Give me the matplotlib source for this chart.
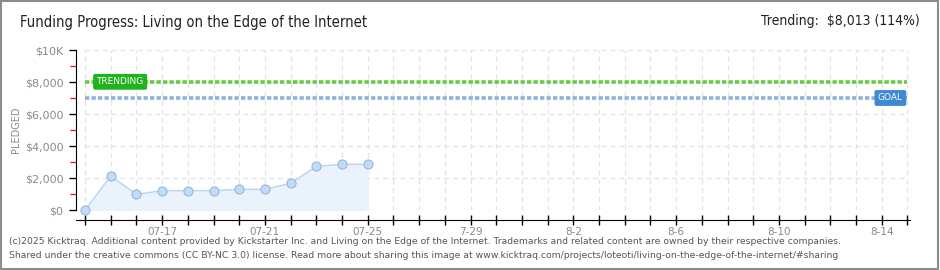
import numpy as np
import matplotlib
matplotlib.use("Agg")
from matplotlib import pyplot as plt
from matplotlib.patches import Rectangle

# pledged amounts per day, starting 07-14
days = list(range(12))
pledged = [0, 2125, 980, 1210, 1210, 1210, 1290, 1290, 1670, 2730, 2855, 2855]

goal = 7000
trending = 8013
n_days = 33  # 07-14 .. 8-15

x_labels = {3: "07-17", 7: "07-21", 11: "07-25", 15: "7-29",
            19: "8-2", 23: "8-6", 27: "8-10", 31: "8-14"}
y_ticks = [0, 2000, 4000, 6000, 8000, 10000]
y_labels = ["$0", "$2,000", "$4,000", "$6,000", "$8,000", "$10K"]

fig = plt.figure(figsize=(9.4, 2.7), dpi=100)
fig.patch.set_facecolor("white")

# outer frame
fig.add_artist(Rectangle((0.001, 0.002), 0.997, 0.995, transform=fig.transFigure,
                         fill=False, edgecolor="#8c8c8c", linewidth=1.5))

ax = fig.add_axes([76 / 940, 60 / 270, 834 / 940, 160 / 270])
ax.set_xlim(-0.35, 32.1)
ax.set_ylim(0, 10000)

# grid
for d in range(n_days):
    ax.axvline(d, color="#e3e3e3", linestyle=(0, (4, 3)), linewidth=0.9, zorder=0)
for v in y_ticks:
    ax.hlines(v, 0, 32, color="#e3e3e3", linestyle=(0, (4, 3)), linewidth=0.9, zorder=0)

# trending and goal lines
ax.hlines(trending, 0, 32, color="#66cc44", linestyle=(0, (1.2, 0.6)), linewidth=2.6, zorder=1)
ax.hlines(goal, 0, 32, color="#8fb0dc", linestyle=(0, (1.2, 0.6)), linewidth=2.6, zorder=1)

ax.text(0.45, trending, "TRENDING", color="white", fontsize=6.5,
        va="center", ha="left", zorder=5,
        bbox=dict(boxstyle="round,pad=0.3,rounding_size=0.15", fc="#1fb41f", ec="#1fb41f"))
ax.text(30.85, goal, "GOAL", color="white", fontsize=6.5,
        va="center", ha="left", zorder=5,
        bbox=dict(boxstyle="round,pad=0.3,rounding_size=0.15", fc="#3f88d4", ec="#3f88d4"))

# pledged series
ax.fill_between(days, pledged, 0, color="#eaf2fc", zorder=2)
ax.plot(days, pledged, color="#b8d4f2", linewidth=1, zorder=3)
ax.plot(days, pledged, "o", markersize=6.5, markerfacecolor="#c2dbf7",
        markeredgecolor="#98b6da", markeredgewidth=0.8, zorder=4, clip_on=False)

# axes styling
for s in ["top", "right"]:
    ax.spines[s].set_visible(False)
ax.spines["left"].set_color("black")
ax.spines["bottom"].set_color("black")
ax.spines["bottom"].set_position(("outward", 7))
ax.spines["bottom"].set_bounds(-0.35, 32.1)

ax.set_yticks(y_ticks)
ax.set_yticklabels(y_labels)
ax.set_yticks([1000, 3000, 5000, 7000, 9000], minor=True)
ax.tick_params(axis="y", which="major", length=5, width=1, color="black",
               labelsize=8, labelcolor="#8a8a8a", pad=4)
ax.tick_params(axis="y", which="minor", length=4, width=1, color="#e02020")

ax.set_xticks(range(n_days))
ax.set_xticklabels([x_labels.get(d, "") for d in range(n_days)])
ax.tick_params(axis="x", which="major", length=7, width=1, color="black",
               direction="inout", labelsize=7.5, labelcolor="#8a8a8a", pad=2)

ax.set_ylabel("PLEDGED", color="#8a8a8a", fontsize=7)
ax.yaxis.set_label_coords(-(76 - 21) / 834, 0.5)

# titles
fig.text(20 / 940, 1 - 22 / 270, "Funding Progress: Living on the Edge of the Internet",
         fontsize=10.6, color="#222222", va="center", ha="left",
         family="DejaVu Sans", stretch="condensed")
fig.text(920 / 940, 1 - 21 / 270, "Trending:  $8,013 (114%)",
         fontsize=10, color="#222222", va="center", ha="right",
         family="DejaVu Sans", stretch="condensed")

# footer
fig.text(9 / 940, 1 - 242 / 270,
         "(c)2025 Kicktraq. Additional content provided by Kickstarter Inc. and Living on the Edge "
         "of the Internet. Trademarks and related content are owned by their respective companies.",
         fontsize=6.7, color="#555555", va="center", ha="left")
fig.text(9 / 940, 1 - 256 / 270,
         "Shared under the creative commons (CC BY-NC 3.0) license. Read more about sharing this "
         "image at www.kicktraq.com/projects/loteoti/living-on-the-edge-of-the-internet/#sharing",
         fontsize=6.7, color="#555555", va="center", ha="left")

fig.savefig("out.png", dpi=100, facecolor="white")
